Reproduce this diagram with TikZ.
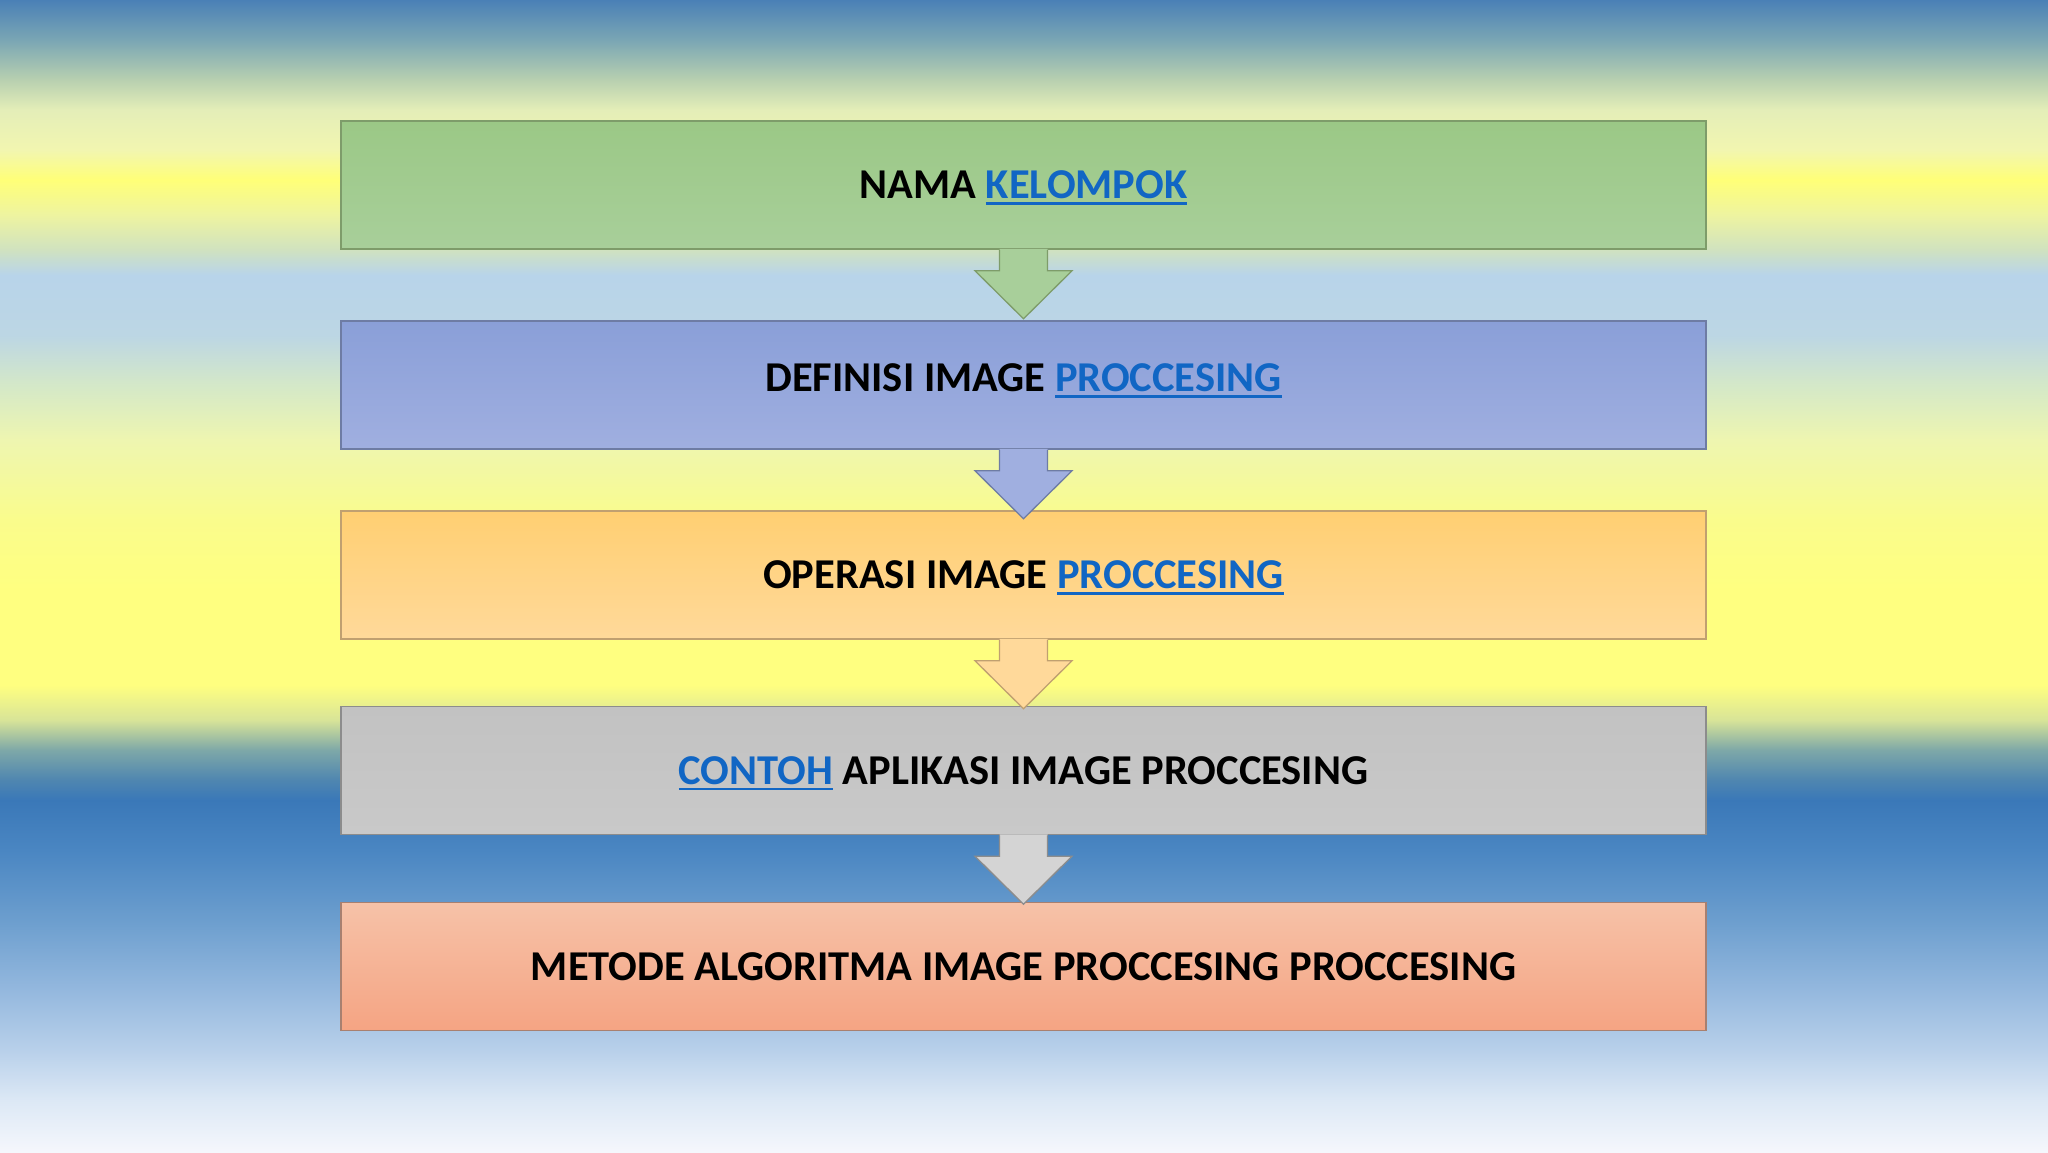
\documentclass[tikz,border=0pt]{standalone}
\usepackage{fontspec}
\setmainfont{Carlito}
\definecolor{c1}{HTML}{4A80B6}
\definecolor{c2}{HTML}{7AA6B4}
\definecolor{c3}{HTML}{B8D0B0}
\definecolor{c4}{HTML}{E4EEB8}
\definecolor{c5}{HTML}{F2F6B0}
\definecolor{c6}{HTML}{FFFF78}
\definecolor{c7}{HTML}{EEF4A0}
\definecolor{c8}{HTML}{D0E2C0}
\definecolor{c9}{HTML}{B8D4EA}
\definecolor{c10}{HTML}{BCD6E4}
\definecolor{c11}{HTML}{D4E8C8}
\definecolor{c12}{HTML}{EEF6B0}
\definecolor{c13}{HTML}{FAFC8C}
\definecolor{c14}{HTML}{FFFF80}
\definecolor{c15}{HTML}{FFFF80}
\definecolor{c16}{HTML}{D8E498}
\definecolor{c17}{HTML}{7EA8A8}
\definecolor{c18}{HTML}{4F86B0}
\definecolor{c19}{HTML}{3A78B8}
\definecolor{c20}{HTML}{4A86C2}
\definecolor{c21}{HTML}{6C9ECE}
\definecolor{c22}{HTML}{94B8DE}
\definecolor{c23}{HTML}{B8D0EA}
\definecolor{c24}{HTML}{DCE8F5}
\definecolor{c25}{HTML}{F5F7FC}
\pgfdeclareverticalshading{bgshade}{100bp}{color(0bp)=(c25); color(25bp)=(c25); color(27.257bp)=(c24); color(29.427bp)=(c23); color(32.031bp)=(c22); color(35.069bp)=(c21); color(38.108bp)=(c20); color(40.278bp)=(c19); color(41.146bp)=(c18); color(42.448bp)=(c17); color(43.750bp)=(c16); color(45.269bp)=(c15); color(49.392bp)=(c14); color(52.431bp)=(c13); color(55.903bp)=(c12); color(58.290bp)=(c11); color(60.460bp)=(c10); color(63.064bp)=(c9); color(64.149bp)=(c8); color(65.668bp)=(c7); color(67.188bp)=(c6); color(68.490bp)=(c5); color(70.226bp)=(c4); color(71.528bp)=(c3); color(73.264bp)=(c2); color(75bp)=(c1); color(100bp)=(c1)}
\definecolor{linkblue}{HTML}{1166C4}
\definecolor{gTop}{HTML}{9BC886}\definecolor{gBot}{HTML}{A8CF9A}\definecolor{gEdge}{HTML}{7E9C6A}
\definecolor{bTop}{HTML}{8A9FD8}\definecolor{bBot}{HTML}{A0AFE0}\definecolor{bEdge}{HTML}{6E7CA4}
\definecolor{oTop}{HTML}{FFCF72}\definecolor{oBot}{HTML}{FFD99A}\definecolor{oEdge}{HTML}{C0A070}
\definecolor{kTop}{HTML}{C2C2C2}\definecolor{kBot}{HTML}{C9C9C9}\definecolor{kEdge}{HTML}{8C8C8C}
\definecolor{sTop}{HTML}{F6C2A8}\definecolor{sBot}{HTML}{F5A483}\definecolor{sEdge}{HTML}{A88070}
\newcommand\lnk[1]{{\color{linkblue}\setbox0\hbox{#1}\rlap{\smash{\rule[-6pt]{\wd0}{2.6pt}}}\box0}}
\newcommand\flowarrow[3]{%
  \fill[#2] ([xshift=-24pt,yshift=0.9pt]#1.south) -- ([xshift=-24pt,yshift=-21pt]#1.south)
    -- ([xshift=-48.5pt,yshift=-21pt]#1.south) -- ([yshift=-69pt]#1.south)
    -- ([xshift=48.5pt,yshift=-21pt]#1.south) -- ([xshift=24pt,yshift=-21pt]#1.south)
    -- ([xshift=24pt,yshift=0.9pt]#1.south) -- cycle;
  \draw[#3, line width=1.3pt, line join=miter] ([xshift=-24pt]#1.south) -- ([xshift=-24pt,yshift=-21pt]#1.south)
    -- ([xshift=-48.5pt,yshift=-21pt]#1.south) -- ([yshift=-69pt]#1.south)
    -- ([xshift=48.5pt,yshift=-21pt]#1.south) -- ([xshift=24pt,yshift=-21pt]#1.south)
    -- ([xshift=24pt]#1.south);
}
\tikzset{
  flowbox/.style={draw, line width=1.5pt, minimum width=1365pt, minimum height=128pt,
    inner sep=0pt, font=\fontsize{42.5}{50}\selectfont\bfseries, text=black}
}
\begin{document}
\begin{tikzpicture}[x=1pt,y=-1pt]
\useasboundingbox (0,0) rectangle (2048,1152);
\shade[shading=bgshade] (0,0) rectangle (2048,1152);
\node[flowbox, top color=gTop, bottom color=gBot, draw=gEdge] (b1) at (1023.5,185) {NAMA \lnk{KELOMPOK}};
\node[flowbox, top color=bTop, bottom color=bBot, draw=bEdge] (b2) at (1023.5,385) {\raisebox{14pt}{DEFINISI IMAGE \lnk{PROCCESING}}};
\node[flowbox, top color=oTop, bottom color=oBot, draw=oEdge] (b3) at (1023.5,575) {OPERASI IMAGE \lnk{PROCCESING}};
\node[flowbox, top color=kTop, bottom color=kBot, draw=kEdge] (b4) at (1023.5,770.5) {\lnk{CONTOH} APLIKASI IMAGE PROCCESING};
\node[flowbox, top color=sTop, bottom color=sBot, draw=sEdge] (b5) at (1023.5,966.5) {METODE ALGORITMA IMAGE PROCCESING PROCCESING};
\flowarrow{b1}{gBot}{gEdge}
\flowarrow{b2}{bBot}{bEdge}
\flowarrow{b3}{oBot}{oEdge}
\flowarrow{b4}{kBot!80!white}{kEdge}
\end{tikzpicture}
\end{document}
